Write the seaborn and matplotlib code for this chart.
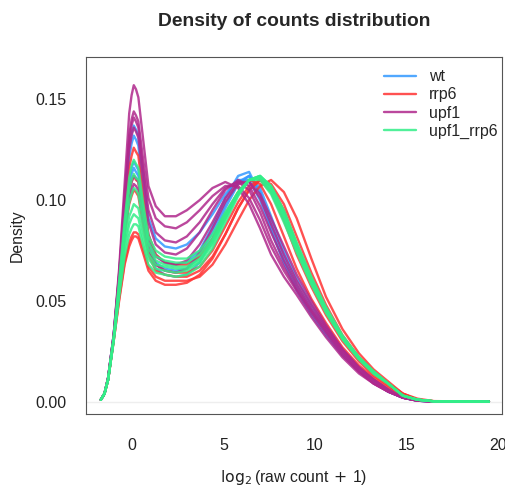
import numpy as np
import pandas as pd
import matplotlib
matplotlib.use("Agg")
import matplotlib.pyplot as plt
from matplotlib.lines import Line2D
import seaborn as sns

sns.set_style("white")
plt.rcParams["font.family"] = ["Liberation Sans", "DejaVu Sans"]

xgrid = [-1.7, -1.5, -1.3, -1.0, -0.7, -0.4, -0.15, -0.02, 0.1, 0.22, 0.35, 0.6, 0.9, 1.3, 1.8,
         2.4, 3.0, 3.7, 4.4, 5.1, 5.8, 6.4, 7.0, 7.6, 8.3, 9.0, 9.8, 10.6,
         11.5, 12.4, 13.2, 14.0, 14.8, 15.6, 16.5, 19.5]

groups = ["wt", "rrp6", "upf1", "upf1_rrp6"]
colors = ["#3399ff", "#ff3333", "#b0288c", "#33ee88"]

wt = [
    [0.001, 0.004, 0.012, 0.033, 0.062, 0.099, 0.126, 0.133, 0.137, 0.135, 0.132, 0.113, 0.091, 0.081, 0.077, 0.076, 0.078, 0.084, 0.093, 0.103,
     0.110, 0.110, 0.100, 0.085, 0.069, 0.056, 0.044, 0.034, 0.024, 0.015, 0.010, 0.005, 0.002, 0.0005, 0.0001, 0.0],
    [0.001, 0.004, 0.012, 0.033, 0.062, 0.096, 0.121, 0.128, 0.132, 0.130, 0.127, 0.106, 0.083, 0.073, 0.069, 0.068, 0.069, 0.075, 0.087, 0.101,
     0.112, 0.114, 0.103, 0.086, 0.069, 0.055, 0.043, 0.033, 0.023, 0.015, 0.010, 0.005, 0.002, 0.0005, 0.0001, 0.0],
    [0.001, 0.004, 0.011, 0.032, 0.060, 0.090, 0.110, 0.116, 0.119, 0.117, 0.115, 0.097, 0.078, 0.069, 0.066, 0.065, 0.066, 0.072, 0.084, 0.098,
     0.109, 0.112, 0.104, 0.089, 0.072, 0.058, 0.046, 0.035, 0.025, 0.016, 0.010, 0.005, 0.002, 0.0005, 0.0001, 0.0],
    [0.001, 0.004, 0.011, 0.032, 0.059, 0.088, 0.107, 0.113, 0.116, 0.114, 0.112, 0.094, 0.075, 0.066, 0.063, 0.062, 0.063, 0.069, 0.081, 0.096,
     0.108, 0.112, 0.106, 0.092, 0.075, 0.061, 0.048, 0.037, 0.026, 0.017, 0.011, 0.006, 0.002, 0.0006, 0.0001, 0.0],
]

rrp6 = [
    [0.001, 0.004, 0.012, 0.032, 0.061, 0.093, 0.116, 0.122, 0.126, 0.124, 0.122, 0.103, 0.083, 0.073, 0.069, 0.068, 0.068, 0.072, 0.081, 0.093,
     0.104, 0.110, 0.108, 0.098, 0.082, 0.066, 0.051, 0.039, 0.027, 0.018, 0.012, 0.007, 0.003, 0.0008, 0.0002, 0.0],
    [0.001, 0.004, 0.011, 0.031, 0.058, 0.086, 0.104, 0.109, 0.112, 0.110, 0.109, 0.093, 0.076, 0.068, 0.065, 0.064, 0.064, 0.067, 0.075, 0.087,
     0.099, 0.107, 0.110, 0.104, 0.090, 0.073, 0.057, 0.043, 0.030, 0.020, 0.013, 0.008, 0.003, 0.001, 0.0002, 0.0],
    [0.001, 0.004, 0.011, 0.031, 0.056, 0.083, 0.098, 0.102, 0.105, 0.104, 0.102, 0.088, 0.073, 0.065, 0.063, 0.062, 0.062, 0.065, 0.072, 0.083,
     0.096, 0.105, 0.110, 0.107, 0.095, 0.078, 0.061, 0.046, 0.032, 0.021, 0.014, 0.009, 0.004, 0.001, 0.0002, 0.0],
    [0.001, 0.004, 0.011, 0.030, 0.051, 0.069, 0.079, 0.082, 0.084, 0.084, 0.083, 0.076, 0.067, 0.062, 0.060, 0.060, 0.060, 0.062, 0.068, 0.078,
     0.090, 0.100, 0.107, 0.110, 0.104, 0.091, 0.071, 0.052, 0.036, 0.024, 0.016, 0.010, 0.004, 0.0015, 0.0003, 0.0],
    [0.001, 0.004, 0.011, 0.030, 0.050, 0.068, 0.077, 0.080, 0.082, 0.082, 0.081, 0.074, 0.065, 0.060, 0.058, 0.058, 0.059, 0.063, 0.071, 0.083,
     0.096, 0.105, 0.110, 0.108, 0.098, 0.082, 0.064, 0.048, 0.033, 0.022, 0.015, 0.009, 0.004, 0.001, 0.0002, 0.0],
]

upf1 = [
    [0.001, 0.004, 0.012, 0.033, 0.066, 0.108, 0.143, 0.152, 0.157, 0.155, 0.151, 0.131, 0.107, 0.097, 0.092, 0.092, 0.095, 0.100, 0.106, 0.109,
     0.106, 0.098, 0.086, 0.073, 0.062, 0.053, 0.042, 0.032, 0.022, 0.014, 0.009, 0.005, 0.002, 0.0005, 0.0001, 0.0],
    [0.001, 0.004, 0.012, 0.033, 0.064, 0.102, 0.132, 0.140, 0.144, 0.142, 0.139, 0.121, 0.101, 0.091, 0.087, 0.086, 0.089, 0.095, 0.102, 0.107,
     0.107, 0.101, 0.090, 0.077, 0.065, 0.055, 0.044, 0.034, 0.023, 0.015, 0.009, 0.005, 0.002, 0.0005, 0.0001, 0.0],
    [0.001, 0.004, 0.012, 0.033, 0.063, 0.100, 0.129, 0.137, 0.141, 0.139, 0.136, 0.116, 0.095, 0.084, 0.080, 0.079, 0.082, 0.089, 0.098, 0.106,
     0.109, 0.105, 0.094, 0.080, 0.067, 0.056, 0.045, 0.035, 0.024, 0.015, 0.009, 0.005, 0.002, 0.0005, 0.0001, 0.0],
    [0.001, 0.004, 0.012, 0.032, 0.062, 0.098, 0.125, 0.132, 0.136, 0.134, 0.131, 0.111, 0.089, 0.078, 0.074, 0.073, 0.076, 0.084, 0.095, 0.105,
     0.110, 0.107, 0.097, 0.084, 0.070, 0.058, 0.046, 0.036, 0.025, 0.016, 0.010, 0.005, 0.002, 0.0005, 0.0001, 0.0],
    [0.001, 0.004, 0.011, 0.031, 0.058, 0.086, 0.104, 0.109, 0.112, 0.111, 0.109, 0.095, 0.080, 0.072, 0.069, 0.068, 0.070, 0.078, 0.089, 0.101,
     0.109, 0.109, 0.101, 0.088, 0.073, 0.060, 0.048, 0.037, 0.026, 0.017, 0.011, 0.006, 0.002, 0.0006, 0.0001, 0.0],
    [0.001, 0.004, 0.011, 0.031, 0.057, 0.084, 0.100, 0.105, 0.108, 0.107, 0.105, 0.091, 0.076, 0.068, 0.065, 0.064, 0.066, 0.074, 0.086, 0.099,
     0.108, 0.109, 0.103, 0.091, 0.077, 0.063, 0.050, 0.038, 0.026, 0.017, 0.011, 0.006, 0.002, 0.0006, 0.0001, 0.0],
]

upf1_rrp6 = [
    [0.001, 0.004, 0.012, 0.032, 0.060, 0.090, 0.111, 0.117, 0.120, 0.118, 0.116, 0.099, 0.082, 0.075, 0.072, 0.071, 0.071, 0.075, 0.083, 0.094,
     0.104, 0.110, 0.110, 0.103, 0.089, 0.074, 0.058, 0.044, 0.031, 0.021, 0.014, 0.009, 0.003, 0.001, 0.0002, 0.0],
    [0.001, 0.004, 0.011, 0.031, 0.058, 0.087, 0.105, 0.110, 0.113, 0.111, 0.110, 0.095, 0.079, 0.072, 0.070, 0.069, 0.069, 0.073, 0.081, 0.093,
     0.104, 0.110, 0.111, 0.104, 0.091, 0.075, 0.059, 0.045, 0.031, 0.021, 0.014, 0.009, 0.003, 0.001, 0.0002, 0.0],
    [0.001, 0.004, 0.011, 0.031, 0.056, 0.083, 0.099, 0.103, 0.106, 0.105, 0.103, 0.090, 0.076, 0.070, 0.068, 0.067, 0.067, 0.071, 0.080, 0.092,
     0.103, 0.110, 0.112, 0.106, 0.093, 0.077, 0.060, 0.046, 0.032, 0.022, 0.014, 0.009, 0.003, 0.001, 0.0002, 0.0],
    [0.001, 0.004, 0.011, 0.031, 0.055, 0.079, 0.092, 0.095, 0.098, 0.097, 0.096, 0.085, 0.073, 0.068, 0.067, 0.066, 0.066, 0.070, 0.079, 0.091,
     0.103, 0.110, 0.111, 0.105, 0.092, 0.076, 0.060, 0.046, 0.032, 0.022, 0.015, 0.009, 0.003, 0.001, 0.0002, 0.0],
    [0.001, 0.004, 0.011, 0.030, 0.054, 0.076, 0.088, 0.091, 0.093, 0.092, 0.091, 0.081, 0.071, 0.066, 0.065, 0.064, 0.065, 0.069, 0.078, 0.091,
     0.103, 0.110, 0.112, 0.107, 0.094, 0.078, 0.061, 0.046, 0.032, 0.022, 0.015, 0.009, 0.003, 0.001, 0.0002, 0.0],
    [0.001, 0.004, 0.011, 0.030, 0.052, 0.072, 0.083, 0.086, 0.088, 0.088, 0.087, 0.078, 0.068, 0.064, 0.063, 0.062, 0.063, 0.067, 0.076, 0.089,
     0.102, 0.110, 0.112, 0.107, 0.095, 0.079, 0.062, 0.047, 0.033, 0.022, 0.015, 0.009, 0.003, 0.001, 0.0002, 0.0],
]

curves = {"wt": wt, "rrp6": rrp6, "upf1": upf1, "upf1_rrp6": upf1_rrp6}

rows = []
for g in groups:
    for i, dens in enumerate(curves[g]):
        for x, d in zip(xgrid, dens):
            rows.append((x, d, g, f"{g}_{i}"))
df = pd.DataFrame(rows, columns=["x", "density", "group", "sample"])

fig = plt.figure(figsize=(5.05, 4.9), dpi=100)
ax = fig.add_axes([0.1703, 0.1551, 0.8232, 0.7286])

ax.axhline(0, color="#eeeeee", lw=1, zorder=0)
pal = dict(zip(groups, colors))
sns.lineplot(data=df, x="x", y="density", hue="group", units="sample",
             estimator=None, sort=False, palette=pal, legend=False,
             linewidth=1.7, alpha=0.85, ax=ax)

ax.set_xlim(-2.51, 20.2)
ax.set_ylim(-0.0061, 0.171)
ax.set_xticks([0, 5, 10, 15, 20])
ax.set_yticks([0.0, 0.05, 0.10, 0.15])
ax.set_yticklabels(["0.00", "0.05", "0.10", "0.15"])
ax.tick_params(axis="both", direction="out", length=7, width=0.8,
               color="#444444", labelsize=11.5, labelcolor="#222222")
ax.tick_params(axis="x", pad=10)
ax.tick_params(axis="y", pad=7)
for s in ax.spines.values():
    s.set_color("#555555")
    s.set_linewidth(0.8)

ax.set_xlabel(r"$\mathrm{log}_2\,$(raw count$\,+\,$1)", fontsize=11.3, labelpad=11, color="#222222")
ax.set_ylabel("Density", fontsize=11.3, labelpad=8, color="#222222")
ax.set_title("Density of counts distribution", fontsize=13.9, fontweight="bold", pad=22)

handles = [Line2D([0], [0], color=c, lw=1.7, alpha=0.85) for c in colors]
ax.legend(handles, groups, loc="upper left", bbox_to_anchor=(0.745, 0.875),
          bbox_transform=fig.transFigure, frameon=False, fontsize=11.5,
          handlelength=2.0, handletextpad=0.8, labelspacing=0.2, borderpad=0)

fig.savefig("out.png", dpi=100)
